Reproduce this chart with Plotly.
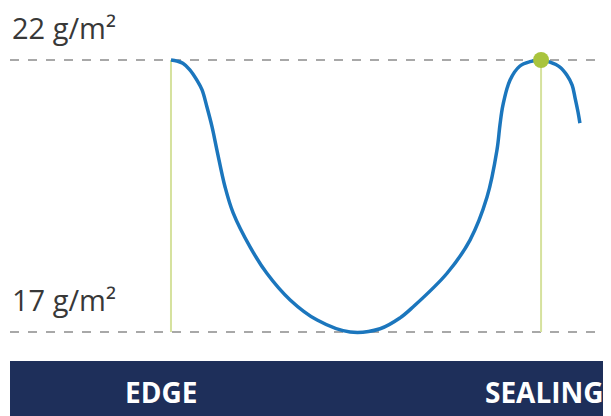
import plotly.graph_objects as go

# position along the seam (EDGE = 0, SEALING = 100) and coat weight in g/m²
position = [0, 1.6, 3.2, 5.1, 7.0, 8.4, 9.7, 11.1, 12.4, 14.6, 16.8, 21.4, 25.9, 32.2,
            39.5, 48.4, 56.5, 61.9, 65.4, 74.6, 80.8, 85.4, 88.1, 88.9, 89.7, 91.6,
            94.3, 97.0, 100, 102.4, 105.1, 107.0, 108.4, 109.2, 110.0, 110.5]
weight = [22.00, 21.98, 21.94, 21.82, 21.63, 21.45, 21.14, 20.77, 20.35, 19.67, 19.19,
          18.56, 18.08, 17.59, 17.22, 17.00, 17.06, 17.26, 17.46, 18.08, 18.69, 19.48,
          20.35, 20.81, 21.17, 21.63, 21.89, 21.97, 22.00, 21.96, 21.87, 21.72, 21.54,
          21.30, 21.04, 20.84]

limits = [22, 17]
limit_labels = ["22 g/m²", "17 g/m²"]
zones = ["EDGE", "SEALING"]
zone_pos = [0, 100]

x_range = [-43.5, 118.9]
y_range = [15.456, 22.956]

fig = go.Figure()

fig.add_trace(go.Scatter(x=position, y=weight, mode="lines",
                         line=dict(color="#1b76bd", width=3.5, shape="spline", smoothing=1),
                         hoverinfo="skip"))
fig.add_trace(go.Scatter(x=[zone_pos[1]], y=[limits[0]], mode="markers",
                         marker=dict(color="#a9c43d", size=16), hoverinfo="skip"))

shapes = []
for v in limits:
    shapes.append(dict(type="line", xref="paper", x0=0, x1=1, yref="y", y0=v, y1=v,
                       line=dict(color="#8c8c8c", width=1.5, dash="dash"), layer="below"))
for p in zone_pos:
    shapes.append(dict(type="line", xref="x", x0=p, x1=p, yref="y", y0=limits[1], y1=limits[0],
                       line=dict(color="#d6e29e", width=2), layer="below"))
shapes.append(dict(type="rect", xref="paper", x0=0, x1=1, yref="y", y0=y_range[0], y1=16.467,
                   fillcolor="#1e2f5a", line=dict(width=0), layer="above"))

annotations = []
for v, t in zip(limits, limit_labels):
    annotations.append(dict(x=0, xref="paper", xanchor="left", y=v + 0.6, yref="y",
                            yanchor="middle", text=t, showarrow=False,
                            font=dict(family="Open Sans", size=29, color="#383838")))
for p, t, dx in zip(zone_pos, zones, [-10, 3]):
    annotations.append(dict(x=p, xref="x", xanchor="center", xshift=dx, y=15.897, yref="y",
                            yanchor="middle", text="<b>" + t + "</b>", showarrow=False,
                            font=dict(family="Open Sans", size=28, color="#ffffff")))

# page body keeps its default 8px margin, so the figure is drawn 8px smaller
fig.update_layout(width=603, height=408, margin=dict(l=2, r=0, t=0, b=0),
                  paper_bgcolor="white", plot_bgcolor="white", showlegend=False,
                  shapes=shapes, annotations=annotations)
fig.update_xaxes(visible=False, range=x_range)
fig.update_yaxes(visible=False, range=y_range)

fig.write_html("out.html")
